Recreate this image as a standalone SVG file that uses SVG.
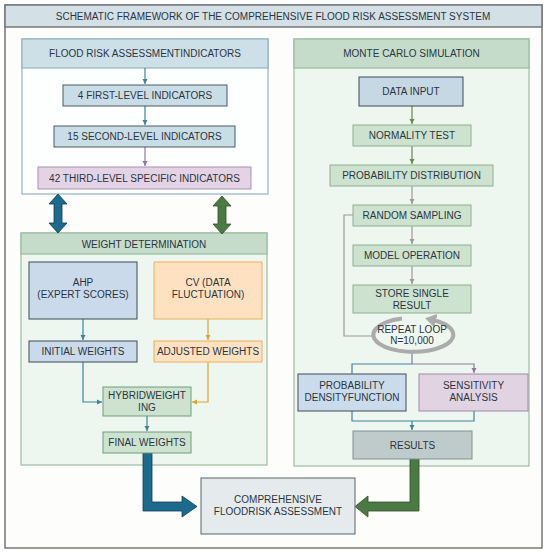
<svg xmlns="http://www.w3.org/2000/svg" width="550" height="555" viewBox="0 0 550 555">
<defs>
<style>
text{font-family:"Liberation Sans",Arial,sans-serif;font-size:10px;fill:#2b3540;text-anchor:middle;}
.ln{fill:none;stroke-width:1.2;}
</style>
<marker id="aT" markerWidth="6" markerHeight="6" refX="5" refY="3" orient="auto" markerUnits="userSpaceOnUse"><path d="M0,0.5 L5,3 L0,5.5z" fill="#3f8398"/></marker>
<marker id="aG" markerWidth="6" markerHeight="6" refX="5" refY="3" orient="auto" markerUnits="userSpaceOnUse"><path d="M0,0.5 L5,3 L0,5.5z" fill="#6a8a50"/></marker>
<marker id="aY" markerWidth="6" markerHeight="6" refX="5" refY="3" orient="auto" markerUnits="userSpaceOnUse"><path d="M0,0.5 L5,3 L0,5.5z" fill="#dba32e"/></marker>
<marker id="aP" markerWidth="6" markerHeight="6" refX="5" refY="3" orient="auto" markerUnits="userSpaceOnUse"><path d="M0,0.5 L5,3 L0,5.5z" fill="#8e7aa0"/></marker>
<marker id="aS" markerWidth="6" markerHeight="6" refX="5" refY="3" orient="auto" markerUnits="userSpaceOnUse"><path d="M0,0.5 L5,3 L0,5.5z" fill="#9a9a9a"/></marker>
<marker id="aL" markerWidth="14" markerHeight="14" refX="3" refY="7" orient="auto" markerUnits="userSpaceOnUse"><path d="M0,0 L11,7 L0,14z" fill="#ababab"/></marker>
</defs>
<rect x="0" y="0" width="550" height="555" fill="#ffffff"/>
<g id="frame">
<rect x="5" y="5" width="537" height="543" fill="#fdfdfb" stroke="#777" stroke-width="1.5"/>
<rect x="5" y="5" width="537" height="22" fill="#d3e0e6" stroke="#777" stroke-width="1.5"/>
<text x="273" y="19.5">SCHEMATIC FRAMEWORK OF THE COMPREHENSIVE FLOOD RISK ASSESSMENT SYSTEM</text>
</g>
<g id="panel-indicators">
<rect x="22" y="39" width="246" height="155" fill="#fdfefe" stroke="#8fb3c4" stroke-width="1.2"/>
<rect x="22" y="39" width="246" height="29" fill="#cde0e8" stroke="#8fb3c4" stroke-width="1.2"/>
<text x="145" y="57">FLOOD RISK ASSESSMENTINDICATORS</text>
</g>
<g id="panel-monte-carlo">
<rect x="294" y="39" width="235" height="427" fill="#eef6f0" stroke="#9dbb9f" stroke-width="1.2"/>
<rect x="294" y="39" width="235" height="29" fill="#c5dccb" stroke="#9dbb9f" stroke-width="1.2"/>
<text x="411.5" y="57">MONTE CARLO SIMULATION</text>
</g>
<g id="panel-weight">
<rect x="21" y="233" width="246" height="232" fill="#eef6f0" stroke="#9dbb9f" stroke-width="1.2"/>
<rect x="21" y="233" width="246" height="21" fill="#c5dccb" stroke="#9dbb9f" stroke-width="1.2"/>
<text x="144" y="247.5">WEIGHT DETERMINATION</text>
</g>
<g id="connectors">
<path class="ln" d="M145,68 V84" stroke="#3f8398" marker-end="url(#aT)"/>
<path class="ln" d="M145,106 V125" stroke="#3f8398" marker-end="url(#aT)"/>
<path class="ln" d="M145,147 V166" stroke="#8e7aa0" marker-end="url(#aP)"/>
<path class="ln" d="M412,106 V124" stroke="#6a8a50" marker-end="url(#aG)"/>
<path class="ln" d="M412,146 V164" stroke="#6a8a50" marker-end="url(#aG)"/>
<path class="ln" d="M412,186 V204" stroke="#9a9a9a" marker-end="url(#aS)"/>
<path class="ln" d="M412,226 V244" stroke="#9a9a9a" marker-end="url(#aS)"/>
<path class="ln" d="M412,266 V284" stroke="#9a9a9a" marker-end="url(#aS)"/>
<path class="ln" d="M353,215 H344 V336 H372" stroke="#9a9a9a"/>
<path class="ln" d="M412,352 V364" stroke="#7a7f98"/>
<path class="ln" d="M352,373 V364 H412" stroke="#3f8398" marker-start="url(#aT)"/>
<path class="ln" d="M412,364 H474 V373" stroke="#8e7aa0" marker-end="url(#aP)"/>
<path class="ln" d="M352,411 V421 H474 V411" stroke="#3f8398"/>
<path class="ln" d="M412,421 V430" stroke="#3f8398" marker-end="url(#aT)"/>
<path class="ln" d="M83,319 V340" stroke="#3f8398" marker-end="url(#aT)"/>
<path class="ln" d="M208,319 V340" stroke="#dba32e" marker-end="url(#aY)"/>
<path class="ln" d="M83,362 V402 H102" stroke="#3f8398" marker-end="url(#aT)"/>
<path class="ln" d="M208,362 V402 H192" stroke="#dba32e" marker-end="url(#aY)"/>
<path class="ln" d="M147,416 V431" stroke="#3f8398" marker-end="url(#aT)"/>
<path d="M58,194 L67,204 L62,204 L62,223 L67,223 L58,233 L49,223 L54,223 L54,204 L49,204 Z" fill="#1c6a8e" stroke="#0f3d55" stroke-width="0.8"/>
<path d="M222,196 L231,206 L226,206 L226,224 L231,224 L222,234 L213,224 L218,224 L218,206 L213,206 Z" fill="#4c7a45" stroke="#2d4e2a" stroke-width="0.8"/>
<path d="M143,453 L152,453 L152,502 L182,502 L182,496 L197,506.5 L182,517 L182,511 L143,511 Z" fill="#1c6a8e" stroke="#0f3d55" stroke-width="0.8"/>
<path d="M410,459 L419,459 L419,511 L368,511 L368,517 L355,506.5 L368,496 L368,502 L410,502 Z" fill="#4c7a45" stroke="#2d4e2a" stroke-width="0.8"/>
</g>
<g id="n-first"><rect x="63" y="85" width="164" height="21" fill="#c9dde6" stroke="#4a5a60"/><text x="145" y="99">4 FIRST-LEVEL INDICATORS</text></g>
<g id="n-second"><rect x="54" y="126" width="181" height="21" fill="#c9dde6" stroke="#4a5a60"/><text x="144.5" y="140">15 SECOND-LEVEL INDICATORS</text></g>
<g id="n-third"><rect x="38" y="167" width="213" height="22" fill="#e3d3e5" stroke="#a58fb0"/><text x="144.5" y="181.5">42 THIRD-LEVEL SPECIFIC INDICATORS</text></g>
<g id="n-data"><rect x="359" y="77" width="104" height="29" fill="#c6d8e4" stroke="#3d4a55"/><text x="411" y="95">DATA INPUT</text></g>
<g id="n-normality"><rect x="353" y="125" width="118" height="21" fill="#cde3d0" stroke="#8fae8f"/><text x="412" y="139">NORMALITY TEST</text></g>
<g id="n-probdist"><rect x="330" y="165" width="163" height="21" fill="#cde3d0" stroke="#8fae8f"/><text x="411.5" y="179">PROBABILITY DISTRIBUTION</text></g>
<g id="n-random"><rect x="353" y="205" width="118" height="21" fill="#cde3d0" stroke="#8fae8f"/><text x="412" y="219">RANDOM SAMPLING</text></g>
<g id="n-model"><rect x="353" y="245" width="118" height="21" fill="#cde3d0" stroke="#8fae8f"/><text x="412" y="259">MODEL OPERATION</text></g>
<g id="n-store"><rect x="353" y="285" width="118" height="28" fill="#cde3d0" stroke="#8fae8f"/><text x="412" y="296.5">STORE SINGLE</text><text x="412" y="308.5">RESULT</text></g>
<g id="n-loop">
<path d="M402,318.5 A40,17 0 1,0 433,320" fill="none" stroke="#ababab" stroke-width="4" marker-end="url(#aL)"/>
<text x="412" y="333">REPEAT LOOP</text><text x="412" y="344">N=10,000</text>
</g>
<g id="n-pdf"><rect x="298" y="374" width="108" height="37" fill="#cadceb" stroke="#3d4a55"/><text x="352" y="389">PROBABILITY</text><text x="352" y="401">DENSITYFUNCTION</text></g>
<g id="n-sens"><rect x="419" y="374" width="109" height="37" fill="#e2d3e3" stroke="#9d8aa6"/><text x="473.5" y="389">SENSITIVITY</text><text x="473.5" y="401">ANALYSIS</text></g>
<g id="n-results"><rect x="353" y="431" width="119" height="28" fill="#bfcbcb" stroke="#7f9490"/><text x="412.5" y="448.5">RESULTS</text></g>
<g id="n-ahp"><rect x="29" y="262" width="108" height="57" fill="#cadaea" stroke="#3d4a55"/><text x="83" y="286">AHP</text><text x="83" y="298">(EXPERT SCORES)</text></g>
<g id="n-cv"><rect x="154" y="262" width="108" height="57" fill="#fde1c0" stroke="#e8b05a"/><text x="208" y="286">CV (DATA</text><text x="208" y="298">FLUCTUATION)</text></g>
<g id="n-initial"><rect x="29" y="341" width="108" height="21" fill="#cadaea" stroke="#3d4a55"/><text x="83" y="355">INITIAL WEIGHTS</text></g>
<g id="n-adjusted"><rect x="154" y="341" width="108" height="21" fill="#fde1c0" stroke="#e8b05a"/><text x="208" y="355">ADJUSTED WEIGHTS</text></g>
<g id="n-hybrid"><rect x="103" y="387" width="88" height="29" fill="#cde3d0" stroke="#6f9c78"/><text x="147" y="398.5">HYBRIDWEIGHT</text><text x="147" y="410.5">ING</text></g>
<g id="n-final"><rect x="103" y="432" width="88" height="21" fill="#cde3d0" stroke="#6f9c78"/><text x="147" y="446">FINAL WEIGHTS</text></g>
<g id="n-comprehensive"><rect x="201" y="478" width="154" height="56" fill="#e5eaec" stroke="#5a6468"/><text x="278" y="503">COMPREHENSIVE</text><text x="278" y="515">FLOODRISK ASSESSMENT</text></g>
</svg>
